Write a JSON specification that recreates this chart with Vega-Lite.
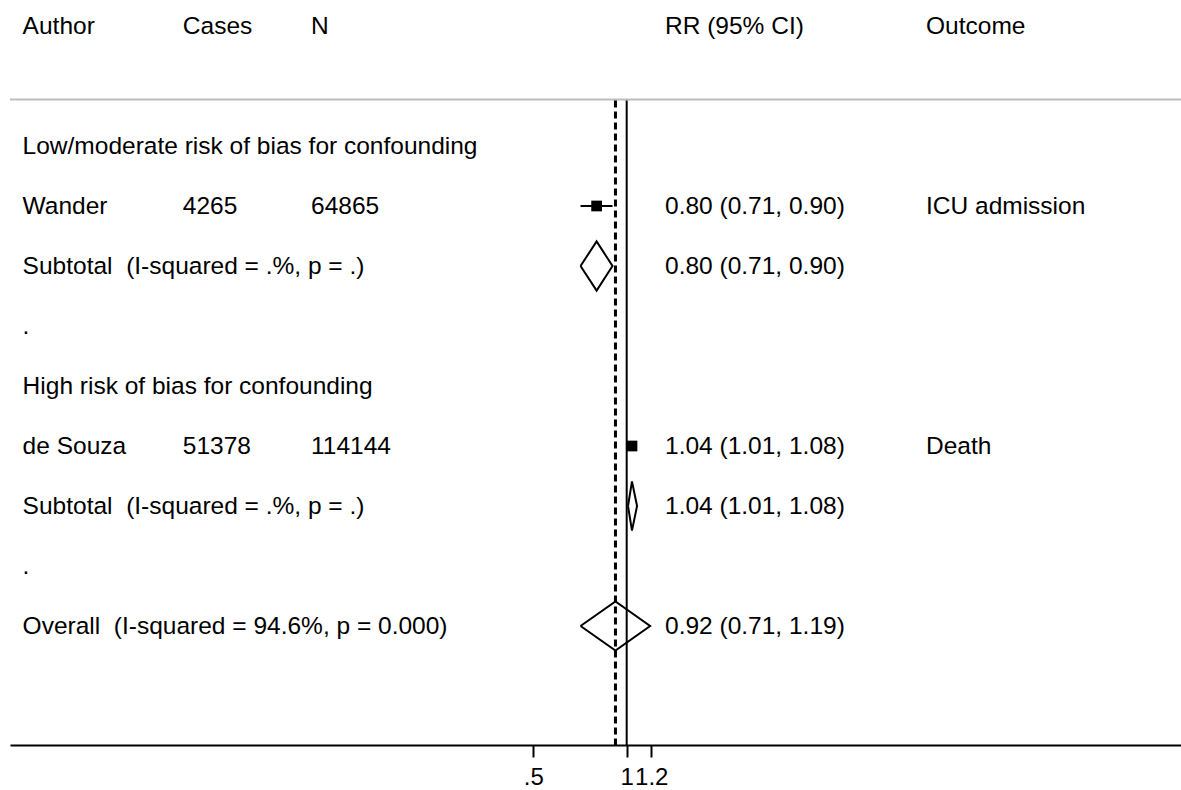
{
  "$schema": "https://vega.github.io/schema/vega-lite/v6.json",
  "width": 1171,
  "height": 745,
  "autosize": {"type": "none"},
  "padding": {"left": 10, "top": 0, "right": 0, "bottom": 45},
  "background": "white",
  "config": {"view": {"stroke": null}, "font": "Liberation Sans"},
  "datasets": {
    "rows": [
      {"row": -1, "author": "Author", "cases": "Cases", "n": "N", "rr": "RR (95% CI)", "outcome": "Outcome", "type": "header"},
      {"row": 1, "author": "Low/moderate risk of bias for confounding", "type": "group"},
      {"row": 2, "author": "Wander", "cases": "4265", "n": "64865", "est": 0.80, "lo": 0.71, "hi": 0.90, "rr": "0.80 (0.71, 0.90)", "outcome": "ICU admission", "type": "study"},
      {"row": 3, "author": "Subtotal \u00a0(I-squared = .%, p = .)", "est": 0.80, "lo": 0.71, "hi": 0.90, "rr": "0.80 (0.71, 0.90)", "type": "subtotal"},
      {"row": 4, "author": ".", "type": "spacer"},
      {"row": 5, "author": "High risk of bias for confounding", "type": "group"},
      {"row": 6, "author": "de Souza", "cases": "51378", "n": "114144", "est": 1.04, "lo": 1.01, "hi": 1.08, "rr": "1.04 (1.01, 1.08)", "outcome": "Death", "type": "study"},
      {"row": 7, "author": "Subtotal \u00a0(I-squared = .%, p = .)", "est": 1.04, "lo": 1.01, "hi": 1.08, "rr": "1.04 (1.01, 1.08)", "type": "subtotal"},
      {"row": 8, "author": ".", "type": "spacer"},
      {"row": 9, "author": "Overall \u00a0(I-squared = 94.6%, p = 0.000)", "est": 0.92, "lo": 0.71, "hi": 1.19, "rr": "0.92 (0.71, 1.19)", "type": "overall"}
    ],
    "diamonds": [
      {"id": "sub1", "k": 1, "x": 0.71, "y": 3},
      {"id": "sub1", "k": 2, "x": 0.80, "y": 2.59},
      {"id": "sub1", "k": 3, "x": 0.90, "y": 3},
      {"id": "sub1", "k": 4, "x": 0.80, "y": 3.41},
      {"id": "sub1", "k": 5, "x": 0.71, "y": 3},
      {"id": "sub2", "k": 1, "x": 1.01, "y": 7},
      {"id": "sub2", "k": 2, "x": 1.04, "y": 6.59},
      {"id": "sub2", "k": 3, "x": 1.08, "y": 7},
      {"id": "sub2", "k": 4, "x": 1.04, "y": 7.41},
      {"id": "sub2", "k": 5, "x": 1.01, "y": 7},
      {"id": "overall", "k": 1, "x": 0.71, "y": 9},
      {"id": "overall", "k": 2, "x": 0.92, "y": 8.59},
      {"id": "overall", "k": 3, "x": 1.19, "y": 9},
      {"id": "overall", "k": 4, "x": 0.92, "y": 9.41},
      {"id": "overall", "k": 5, "x": 0.71, "y": 9}
    ],
    "refs": [
      {"name": "null effect", "x": 1, "top": 0.24, "bottom": 10.983, "sep": 0.225}
    ]
  },
  "data": {"name": "rows"},
  "encoding": {
    "y": {"field": "row", "type": "quantitative", "scale": {"domain": [-1.433, 10.983], "reverse": true, "nice": false, "zero": false}, "axis": null}
  },
  "layer": [
    {
      "data": {"name": "rows"},
      "transform": [{"filter": "datum.type == 'study'"}],
      "mark": {"type": "rule", "color": "black", "strokeWidth": 2},
      "encoding": {
        "x": {"field": "lo", "type": "quantitative", "scale": {"type": "log", "domain": [0.01029, 61.17], "nice": false},
          "axis": {"values": [0.5, 1, 1.2], "labelExpr": "datum.value == 0.5 ? '.5' : (datum.value == 1 ? '1' : '1.2')", "title": null, "grid": false, "domainColor": "black", "domainWidth": 2, "tickColor": "black", "tickWidth": 2, "tickSize": 12, "labelFontSize": 24, "labelColor": "black", "labelFont": "Liberation Sans", "labelPadding": 8, "labelFlush": false, "labelOverlap": false, "labelBound": false}},
        "x2": {"field": "hi"}
      }
    },
    {
      "data": {"name": "refs"},
      "mark": {"type": "rule", "color": "#bdbdbd", "strokeWidth": 2},
      "encoding": {"y": {"field": "sep", "type": "quantitative"}}
    },
    {
      "data": {"name": "refs"},
      "mark": {"type": "rule", "color": "black", "strokeWidth": 2},
      "encoding": {
        "x": {"field": "x", "type": "quantitative"},
        "y": {"field": "top", "type": "quantitative"},
        "y2": {"field": "bottom"}
      }
    },
    {
      "data": {"name": "rows"},
      "transform": [{"filter": "datum.type == 'overall'"}],
      "mark": {"type": "rule", "color": "black", "strokeWidth": 3, "strokeDash": [7, 4]},
      "encoding": {
        "x": {"field": "est", "type": "quantitative"},
        "y": {"datum": 0.24, "type": "quantitative"},
        "y2": {"datum": 10.983}
      }
    },
    {
      "data": {"name": "rows"},
      "transform": [{"filter": "datum.type == 'study'"}],
      "mark": {"type": "square", "color": "black", "filled": true, "opacity": 1, "size": 115},
      "encoding": {"x": {"field": "est", "type": "quantitative"}}
    },
    {
      "data": {"name": "diamonds"},
      "mark": {"type": "line", "color": "black", "strokeWidth": 2},
      "encoding": {
        "x": {"field": "x", "type": "quantitative"},
        "y": {"field": "y", "type": "quantitative"},
        "detail": {"field": "id"},
        "order": {"field": "k", "type": "quantitative"}
      }
    },
    {
      "data": {"name": "rows"},
      "mark": {"type": "text", "align": "left", "baseline": "middle", "dy": 1, "fontSize": 24.5, "font": "Liberation Sans", "color": "black"},
      "encoding": {"x": {"datum": 0.0113, "type": "quantitative"}, "text": {"field": "author"}}
    },
    {
      "data": {"name": "rows"},
      "transform": [{"filter": "isValid(datum.cases)"}],
      "mark": {"type": "text", "align": "left", "baseline": "middle", "dy": 1, "fontSize": 24.5, "font": "Liberation Sans", "color": "black"},
      "encoding": {"x": {"datum": 0.0371, "type": "quantitative"}, "text": {"field": "cases"}}
    },
    {
      "data": {"name": "rows"},
      "transform": [{"filter": "isValid(datum.n)"}],
      "mark": {"type": "text", "align": "left", "baseline": "middle", "dy": 1, "fontSize": 24.5, "font": "Liberation Sans", "color": "black"},
      "encoding": {"x": {"datum": 0.0961, "type": "quantitative"}, "text": {"field": "n"}}
    },
    {
      "data": {"name": "rows"},
      "transform": [{"filter": "isValid(datum.rr)"}],
      "mark": {"type": "text", "align": "left", "baseline": "middle", "dy": 1, "fontSize": 24.5, "font": "Liberation Sans", "color": "black"},
      "encoding": {"x": {"datum": 1.329, "type": "quantitative"}, "text": {"field": "rr"}}
    },
    {
      "data": {"name": "rows"},
      "transform": [{"filter": "isValid(datum.outcome)"}],
      "mark": {"type": "text", "align": "left", "baseline": "middle", "dy": 1, "fontSize": 24.5, "font": "Liberation Sans", "color": "black"},
      "encoding": {"x": {"datum": 9.22, "type": "quantitative"}, "text": {"field": "outcome"}}
    }
  ]
}
